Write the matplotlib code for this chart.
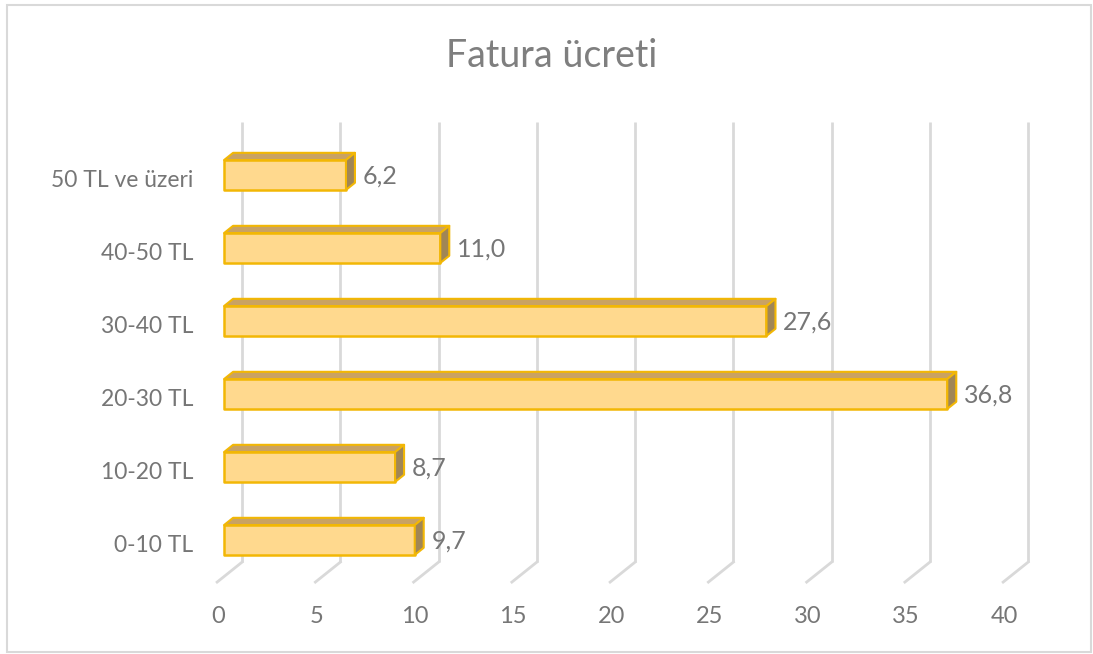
import matplotlib
matplotlib.use("Agg")
import matplotlib.pyplot as plt
from matplotlib.patches import Polygon, Rectangle

plt.rcParams['font.family'] = ['Lato', 'DejaVu Sans']

categories = ["0-10 TL", "10-20 TL", "20-30 TL", "30-40 TL", "40-50 TL", "50 TL ve üzeri"]
values = [9.7, 8.7, 36.8, 27.6, 11.0, 6.2]
value_labels = ["9,7", "8,7", "36,8", "27,6", "11,0", "6,2"]
xticks = [0, 5, 10, 15, 20, 25, 30, 35, 40]
title = "Fatura ücreti"

W, H = 1093, 654
fig = plt.figure(figsize=(W / 100, H / 100), dpi=100)
ax = fig.add_axes([0, 0, 1, 1])
ax.set_xlim(-12.32, 43.3)
ax.set_ylim(-1.759, 7.20)
ax.axis('off')

# depth offsets (full depth from back wall to front edge), in data units
DX, DY = -1.272, -0.274
def off(d):
    return DX * d, DY * d

grid_c = "#D9D9D9"
text_c = "#767676"
ymin_w, ymax_w = -0.5, 5.53

# back wall grid + floor diagonals
for t in xticks:
    ax.plot([t, t], [ymin_w, ymax_w], color=grid_c, lw=2, zorder=1, solid_capstyle='butt')
    fx, fy = off(1.0)
    ax.plot([t, t + fx], [ymin_w, ymin_w + fy], color=grid_c, lw=2, zorder=1)
    ax.text(t + fx + 0.05, -1.25, str(t), ha='center', va='center', fontsize=17, color=text_c)

# bars
front_c = "#FFD98E"
top_c = "#C9A263"
side_c = "#A08656"
edge_c = "#F2B705"
hh = 0.205
bx, by = off(0.36)
fx, fy = off(0.72)
for i, (cat, v, lab) in enumerate(zip(categories, values, value_labels)):
    c = i
    # front face
    ax.add_patch(Rectangle((fx, c + fy - hh), v, 2 * hh, facecolor=front_c,
                           edgecolor=edge_c, lw=1.8, zorder=3, joinstyle='round'))
    # top face
    ax.add_patch(Polygon([(fx, c + fy + hh), (fx + v, c + fy + hh),
                          (bx + v, c + by + hh), (bx, c + by + hh)], closed=True,
                         facecolor=top_c, edgecolor=edge_c, lw=1.5, zorder=3, joinstyle='round'))
    # side face
    ax.add_patch(Polygon([(fx + v, c + fy + hh), (fx + v, c + fy - hh),
                          (bx + v, c + by - hh), (bx + v, c + by + hh)], closed=True,
                         facecolor=side_c, edgecolor=edge_c, lw=1.5, zorder=3, joinstyle='round'))
    ax.text(bx + v + 0.40, c + fy - 0.02, lab, ha='left', va='center', fontsize=18, color=text_c)
    ex, ey = off(1.0)
    ax.text(-2.49, c + ey, cat, ha='right', va='center', fontsize=16.5, color=text_c)

fig.text(552 / W, 1 - 56 / H, title, ha='center', va='center', fontsize=27, color="#7F7F7F")

fig.add_artist(Rectangle((7 / W, 2 / H), 1084 / W, 647 / H, transform=fig.transFigure,
                         fill=False, edgecolor="#D9D9D9", lw=1.5))

fig.savefig("out.png", dpi=100)
